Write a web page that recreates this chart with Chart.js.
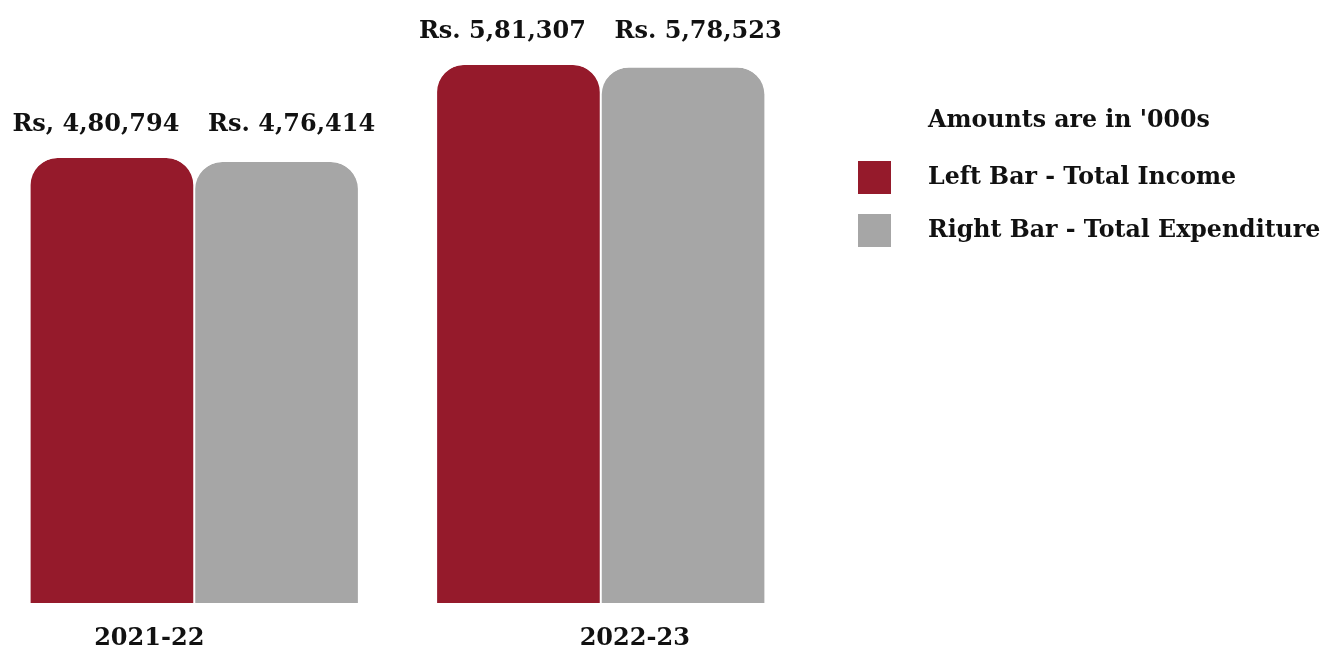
<!DOCTYPE html>
<html>
<head>
<meta charset="utf-8">
<script src="https://cdn.jsdelivr.net/npm/chart.js@4/dist/chart.umd.min.js"></script>
<style>
  html, body { margin: 0; padding: 0; background: #fff; overflow: hidden; }
  #wrap { position: relative; width: 1325px; height: 650px; }
  #wrap canvas { position: absolute; left: -9px; top: 0; }
  .legend { position: absolute; left: 858px; top: 0; font-family: "DejaVu Serif", serif; font-weight: bold; font-size: 23.7px; color: #111; }
  .legend .title { position: absolute; left: 70px; top: 105px; white-space: nowrap; }
  .legend .item { position: absolute; left: 0; white-space: nowrap; }
  .legend .box { position: absolute; left: 0; width: 33px; height: 33px; }
  .legend .txt { position: absolute; left: 70px; top: 1px; }
</style>
</head>
<body>
<div id="wrap">
  <canvas id="financeChart" width="1334" height="650"></canvas>
  <div class="legend">
    <div class="title">Amounts are in '000s</div>
    <div class="item" style="top:161px"><div class="box" style="background:#951a2b"></div><div class="txt">Left Bar - Total Income</div></div>
    <div class="item" style="top:214px"><div class="box" style="background:#a6a6a6"></div><div class="txt">Right Bar - Total Expenditure</div></div>
  </div>
</div>
<script>
const years = ['2021-22', '2022-23'];
const income = [480794, 581307];
const expenditure = [476414, 578523];
const incomeLabels = ['Rs, 4,80,794', 'Rs. 5,81,307'];
const expenditureLabels = ['Rs. 4,76,414', 'Rs. 5,78,523'];

const FONT = '"DejaVu Serif", serif';

// value labels above each pair, category names under the bars
const labelsPlugin = {
  id: 'labelsPlugin',
  afterDatasetsDraw(chart) {
    const ctx = chart.ctx;
    const m0 = chart.getDatasetMeta(0);
    const m1 = chart.getDatasetMeta(1);
    const texts = [incomeLabels, expenditureLabels];
    const shift = [-16, 15];
    ctx.save();
    ctx.fillStyle = '#111';
    ctx.font = 'bold 24px ' + FONT;
    ctx.textAlign = 'center';
    ctx.textBaseline = 'middle';
    years.forEach((y, i) => {
      const top = Math.min(m0.data[i].y, m1.data[i].y);
      [m0, m1].forEach((m, d) => {
        ctx.fillText(texts[d][i], m.data[i].x + shift[d], top - 33);
      });
    });
    const catShift = [-45, 34];
    years.forEach((y, i) => {
      ctx.fillText(y, chart.scales.x.getPixelForValue(i) + catShift[i], 639);
    });
    ctx.restore();
  }
};

new Chart(document.getElementById('financeChart').getContext('2d'), {
  type: 'bar',
  data: {
    labels: years,
    datasets: [
      {
        label: 'Left Bar - Total Income',
        data: income,
        backgroundColor: '#951a2b',
        borderColor: '#ffffff',
        borderWidth: { left: 1, right: 1, top: 0, bottom: 0 },
        borderRadius: { topLeft: 28, topRight: 28 },
        borderSkipped: false
      },
      {
        label: 'Right Bar - Total Expenditure',
        data: expenditure,
        backgroundColor: '#a6a6a6',
        borderColor: '#ffffff',
        borderWidth: { left: 1, right: 1, top: 0, bottom: 0 },
        borderRadius: { topLeft: 28, topRight: 28 },
        borderSkipped: false
      }
    ]
  },
  options: {
    responsive: false,
    animation: false,
    devicePixelRatio: 1,
    layout: { padding: { left: 0, right: 521, top: 0, bottom: 47 } },
    datasets: { bar: { categoryPercentage: 0.81, barPercentage: 1.0 } },
    plugins: { legend: { display: false }, tooltip: { enabled: false } },
    scales: {
      x: { display: false },
      y: { display: false, min: 0, max: 651500 }
    }
  },
  plugins: [labelsPlugin]
});
</script>
</body>
</html>
